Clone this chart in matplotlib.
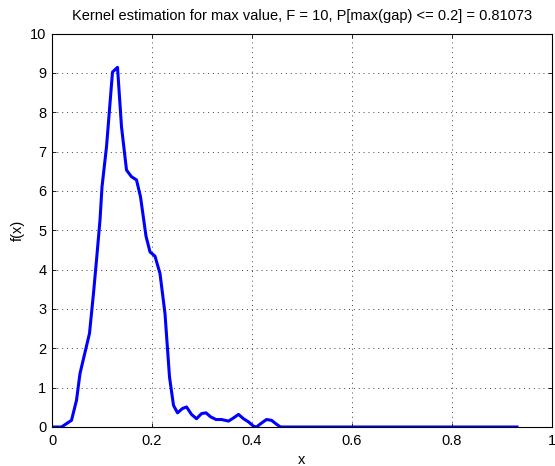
import numpy as np
import matplotlib
matplotlib.use("Agg")
from matplotlib import pyplot as plt

# curve (x, f(x))
x_vals = [0.0, 0.019, 0.039, 0.049, 0.056, 0.075, 0.083, 0.089, 0.096, 0.100,
          0.109, 0.121, 0.131, 0.139, 0.149, 0.159, 0.169, 0.177, 0.188, 0.196,
          0.206, 0.216, 0.226, 0.235, 0.243, 0.251, 0.261, 0.269, 0.279, 0.289,
          0.299, 0.308, 0.317, 0.328, 0.339, 0.353, 0.363, 0.373, 0.383, 0.393,
          0.403, 0.409, 0.419, 0.429, 0.439, 0.449, 0.457, 0.93]
f_vals = [0.0, 0.0, 0.17, 0.68, 1.36, 2.38, 3.4, 4.24, 5.26, 6.1,
          7.12, 9.02, 9.14, 7.63, 6.53, 6.36, 6.28, 5.85, 4.85, 4.45,
          4.34, 3.9, 2.88, 1.27, 0.55, 0.36, 0.47, 0.51, 0.32, 0.21,
          0.34, 0.36, 0.26, 0.19, 0.19, 0.15, 0.23, 0.32, 0.21, 0.13,
          0.02, 0.0, 0.10, 0.19, 0.17, 0.07, 0.0, 0.0]

title_text = "Kernel estimation for max value, F = 10, P[max(gap) <= 0.2] = 0.81073"

plt.rcParams['font.family'] = ['Liberation Sans', 'DejaVu Sans']
plt.rcParams['font.size'] = 10.5

fig = plt.figure(figsize=(5.55, 4.66), dpi=100)
ax = fig.add_axes([0.0937, 0.0837, 0.9009, 0.8444])
ax.plot(x_vals, f_vals, color=(0, 0, 1), linewidth=2.2, solid_joinstyle='round')

ax.set_xlim(0, 1)
ax.set_ylim(0, 10)
ax.set_xticks(np.arange(0, 1.01, 0.2))
ax.set_xticklabels(['0', '0.2', '0.4', '0.6', '0.8', '1'])
ax.set_yticks(range(0, 11))
ax.tick_params(direction='in', length=3, width=0.6, top=True, right=True)
ax.tick_params(axis='x', pad=5)
ax.tick_params(axis='y', pad=4)
ax.grid(True, color='#444444', linestyle=(0, (1, 4)), linewidth=0.7)
for s in ax.spines.values():
    s.set_linewidth(0.8)

ax.set_title(title_text, fontsize=10.5, pad=10)
ax.set_xlabel('x', labelpad=4)
ax.set_ylabel('f(x)', labelpad=4)

fig.savefig("out.png", dpi=100)
